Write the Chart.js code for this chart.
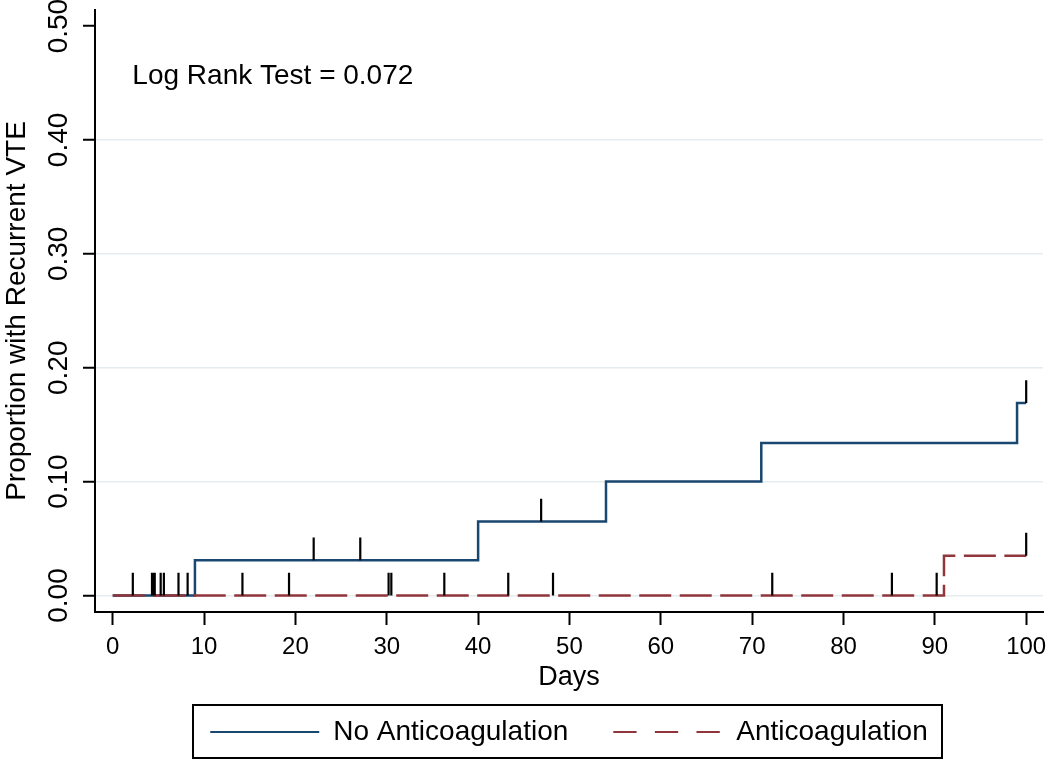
<!DOCTYPE html>
<html>
<head>
<meta charset="utf-8">
<script src="https://cdn.jsdelivr.net/npm/chart.js@4.4.1/dist/chart.umd.min.js"></script>
<style>
html,body{margin:0;padding:0;background:#fff;}
#wrap{width:1050px;height:759px;}
</style>
</head>
<body>
<div id="wrap"><canvas id="c" width="1050" height="759"></canvas></div>
<script>
// ---- data ----
const seriesNames = ['No Anticoagulation', 'Anticoagulation'];
const noAcTimes  = [0, 9, 40, 54, 71, 99, 100];
const noAcValues = [0, 0.031, 0.065, 0.100, 0.134, 0.169, 0.169];
const acTimes    = [0, 91, 100];
const acValues   = [0, 0.035, 0.035];
const noAcCensorTimes = [22.0, 27.1, 46.9, 100];
const acCensorTimes   = [2.2, 4.3, 4.45, 4.6, 5.25, 5.6, 7.2, 8.2, 14.2, 19.3, 30.2, 30.5, 36.3, 43.3, 48.2, 72.2, 85.3, 90.2, 100];
const xTickValues = [0, 10, 20, 30, 40, 50, 60, 70, 80, 90, 100];
const xTickLabels = ['0', '10', '20', '30', '40', '50', '60', '70', '80', '90', '100'];
const yTickValues = [0, 0.1, 0.2, 0.3, 0.4, 0.5];
const yTickLabels = ['0.00', '0.10', '0.20', '0.30', '0.40', '0.50'];
const xTitle = 'Days';
const yTitle = 'Proportion with Recurrent VTE';
const noteText = 'Log Rank Test = 0.072';
const notePos = { x: 2.15, y: 0.456 };
const xRange = { min: -1.94, max: 101.84 };
const yRange = { min: -0.0145, max: 0.5141 };
const censorTickHeight = 0.02;

// ---- helpers ----
const FONT = "'Liberation Sans', Arial, sans-serif";
function stepValueAt(times, values, t) {
  let v = values[0];
  for (let i = 0; i < times.length; i++) { if (times[i] <= t) v = values[i]; }
  return v;
}
function zip(times, values) { return times.map((t, i) => ({ x: t, y: values[i] })); }
function censorSegments(groups) {
  const out = [];
  groups.forEach(g => g.censor.forEach(t => {
    const v = stepValueAt(g.times, g.values, t);
    out.push({ x: t, y: v }, { x: t, y: v + censorTickHeight }, { x: t, y: null });
  }));
  return out;
}

const noteP = {
  id: 'note',
  afterDatasetsDraw(chart) {
    const ctx = chart.ctx;
    const xs = chart.scales.x, ys = chart.scales.y;
    ctx.save();
    ctx.font = '28px ' + FONT;
    ctx.fillStyle = '#000';
    ctx.textAlign = 'left';
    ctx.textBaseline = 'middle';
    ctx.fillText(noteText, xs.getPixelForValue(notePos.x), ys.getPixelForValue(notePos.y));
    ctx.restore();
  }
};
const legendFrame = {
  id: 'legendFrame',
  afterDraw(chart) {
    const hb = chart.legend && chart.legend.legendHitBoxes;
    if (!hb || !hb.length) return;
    const ctx = chart.ctx;
    const last = hb[hb.length - 1];
    const l = Math.round(hb[0].left - 17);
    const r = Math.round(last.left + last.width + 14);
    const cy = Math.round(hb[0].top + hb[0].height / 2);
    ctx.save();
    ctx.strokeStyle = '#000';
    ctx.lineWidth = 2;
    ctx.strokeRect(l, cy - 27, r - l, 53);
    ctx.restore();
  }
};

new Chart(document.getElementById('c'), {
  type: 'line',
  data: {
    datasets: [
      {
        label: seriesNames[0],
        data: zip(noAcTimes, noAcValues),
        stepped: true,
        borderColor: '#1a476f',
        backgroundColor: '#1a476f',
        borderWidth: 2.5,
        pointRadius: 0,
        fill: false,
        order: 2
      },
      {
        label: seriesNames[1],
        data: zip(acTimes, acValues),
        stepped: true,
        borderColor: '#90353b',
        backgroundColor: '#90353b',
        borderWidth: 2.5,
        borderDash: [32, 8.5],
        pointRadius: 0,
        fill: false,
        order: 1
      },
      {
        label: 'Censored',
        data: censorSegments([
          { times: noAcTimes, values: noAcValues, censor: noAcCensorTimes },
          { times: acTimes, values: acValues, censor: acCensorTimes }
        ]),
        borderColor: '#000',
        borderWidth: 2.2,
        pointRadius: 0,
        spanGaps: false,
        fill: false,
        order: 0
      }
    ]
  },
  options: {
    responsive: false,
    animation: false,
    devicePixelRatio: 1,
    events: [],
    layout: { padding: { top: 10, right: 7, bottom: 3, left: 0 } },
    plugins: {
      tooltip: { enabled: false },
      legend: {
        display: true,
        position: 'bottom',
        fullSize: false,
        align: 'center',
        labels: {
          usePointStyle: true,
          pointStyle: 'line',
          pointStyleWidth: 109,
          padding: 45,
          color: '#000',
          font: { size: 28, family: FONT },
          filter: (item) => item.datasetIndex < 2,
          sort: (a, b) => a.datasetIndex - b.datasetIndex,
          generateLabels: (chart) => {
            const items = Chart.defaults.plugins.legend.labels.generateLabels(chart);
            return items.map(it => {
              it.pointStyle = 'line';
              it.lineWidth = 2.2;
              if (it.datasetIndex === 1) it.lineDash = [23.3, 18.3];
              it.fontColor = '#000';
              return it;
            });
          }
        }
      }
    },
    scales: {
      x: {
        type: 'linear',
        min: xRange.min,
        max: xRange.max,
        afterBuildTicks: (s) => { s.ticks = xTickValues.map(v => ({ value: v })); },
        afterFit: (s) => { s.height = 61; s.paddingLeft = 0; s.paddingRight = 0; },
        border: { display: true, color: '#000', width: 2 },
        grid: { drawOnChartArea: false, drawTicks: true, tickLength: 13, tickColor: '#000', tickWidth: 2 },
        ticks: {
          autoSkip: false, minRotation: 0, maxRotation: 0, padding: 8,
          color: '#000', font: { size: 24, family: FONT },
          callback: (v, i) => xTickLabels[i]
        },
        title: {
          display: true, text: xTitle, color: '#000',
          font: { size: 27, family: FONT },
          padding: { top: 0, bottom: -21 }
        }
      },
      y: {
        type: 'linear',
        min: yRange.min,
        max: yRange.max,
        afterBuildTicks: (s) => { s.ticks = yTickValues.map(v => ({ value: v })); },
        afterFit: (s) => { s.width = 95; s.paddingTop = 0; s.paddingBottom = 0; },
        border: { display: true, color: '#000', width: 2 },
        grid: {
          color: (c) => (c.tick && c.tick.value === 0.5) ? 'rgba(0,0,0,0)' : '#e3ecee',
          lineWidth: 1.5,
          drawTicks: true, tickLength: 12, tickColor: '#000', tickWidth: 2
        },
        ticks: {
          autoSkip: false, minRotation: 90, maxRotation: 90, crossAlign: 'center', padding: -4,
          color: '#000', font: { size: 28, family: FONT },
          callback: (v, i) => yTickLabels[i]
        },
        title: {
          display: true, text: yTitle, color: '#000',
          font: { size: 28, family: FONT },
          padding: { top: 0, bottom: 0 }
        }
      }
    }
  },
  plugins: [noteP, legendFrame]
});
</script>
</body>
</html>
